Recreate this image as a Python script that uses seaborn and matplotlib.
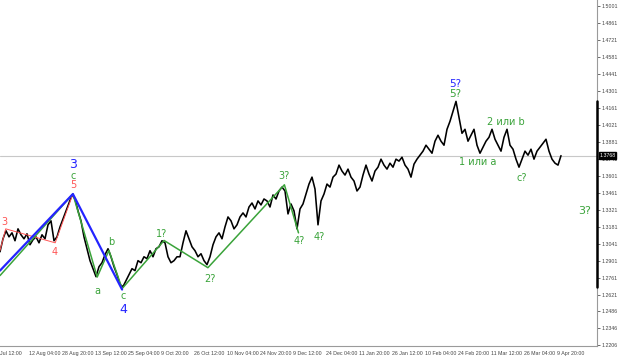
import matplotlib
matplotlib.use("Agg")
import matplotlib.pyplot as plt
import matplotlib.transforms as mtransforms
import numpy as np
import pandas as pd
import seaborn as sns

# close prices, one point every ~3 px of the original chart
close = [1.2976, 1.3083, 1.3149, 1.3099, 1.3132, 1.3067, 1.3165, 1.3116, 1.3083, 1.3124,
         1.3034, 1.3075, 1.3099, 1.3050, 1.3116, 1.3083, 1.3198, 1.3231, 1.3067, 1.3099,
         1.3181, 1.3247, 1.3313, 1.3378, 1.3444, 1.3411, 1.3313, 1.3231, 1.3099, 1.3001,
         1.2903, 1.2837, 1.2771, 1.2853, 1.2886, 1.2952, 1.3001, 1.2935, 1.2853, 1.2788,
         1.2706, 1.2689, 1.2739, 1.2788, 1.2837, 1.2821, 1.2903, 1.2886, 1.2935, 1.2919,
         1.2985, 1.2935, 1.3001, 1.3017, 1.3067, 1.3050, 1.2935, 1.2886, 1.2903, 1.2935,
         1.2935, 1.3050, 1.3149, 1.3083, 1.3017, 1.2985, 1.2935, 1.2960, 1.2903, 1.2870,
         1.2935, 1.3034, 1.3099, 1.3132, 1.3083, 1.3181, 1.3263, 1.3231, 1.3165, 1.3198,
         1.3263, 1.3296, 1.3263, 1.3345, 1.3378, 1.3329, 1.3395, 1.3362, 1.3411, 1.3395,
         1.3345, 1.3444, 1.3411, 1.3477, 1.3509, 1.3477, 1.3288, 1.3370, 1.3313, 1.3165,
         1.3329, 1.3370, 1.3452, 1.3534, 1.3591, 1.3493, 1.3198, 1.3395, 1.3452, 1.3534,
         1.3509, 1.3591, 1.3616, 1.3690, 1.3641, 1.3608, 1.3657, 1.3591, 1.3559, 1.3477,
         1.3509, 1.3608, 1.3690, 1.3616, 1.3559, 1.3641, 1.3673, 1.3739, 1.3690, 1.3657,
         1.3706, 1.3673, 1.3739, 1.3723, 1.3755, 1.3690, 1.3657, 1.3591, 1.3698, 1.3739,
         1.3772, 1.3805, 1.3854, 1.3821, 1.3788, 1.3887, 1.3936, 1.3887, 1.3854, 1.3985,
         1.4051, 1.4133, 1.4215, 1.4083, 1.3952, 1.3985, 1.3887, 1.3936, 1.3985, 1.3854,
         1.3788, 1.3837, 1.3887, 1.3919, 1.3985, 1.3903, 1.3854, 1.3805, 1.3919, 1.3985,
         1.3854, 1.3821, 1.3739, 1.3673, 1.3739, 1.3805, 1.3772, 1.3821, 1.3739, 1.3805,
         1.3837, 1.3870, 1.3903, 1.3805, 1.3739, 1.3706, 1.3690, 1.3768]
last_price = 1.3768

yticks = [1.5001, 1.4861, 1.4721, 1.4581, 1.4441, 1.4301, 1.4161, 1.4021, 1.3881, 1.3741,
          1.3601, 1.3461, 1.3321, 1.3181, 1.3041, 1.2901, 1.2761, 1.2621, 1.2486, 1.2346, 1.2206]
xtick_pos = [0, 9.7, 20.7, 31.7, 42.7, 53.7, 64.7, 75.7, 86.7, 97.7, 108.7, 119.7,
             130.7, 141.7, 152.7, 163.7, 174.7, 185.7]
xtick_labels = ["Jul 12:00", "12 Aug 04:00", "28 Aug 20:00", "13 Sep 12:00", "25 Sep 04:00",
                "9 Oct 20:00", "26 Oct 12:00", "10 Nov 04:00", "24 Nov 20:00", "9 Dec 12:00",
                "24 Dec 04:00", "11 Jan 20:00", "26 Jan 12:00", "10 Feb 04:00", "24 Feb 20:00",
                "11 Mar 12:00", "26 Mar 04:00", "9 Apr 20:00"]

# wave pivots (bar index, price)
blue_x = [0, 24.3, 40.7]
blue_y = [1.2821, 1.3452, 1.2665]
green1_x = [0, 24.3]
green1_y = [1.2780, 1.3452]
green2_x = [24.3, 32.4, 36.3, 40.7, 54.7, 69.3, 94.8, 99.5]
green2_y = [1.3452, 1.2768, 1.2987, 1.2673, 1.3069, 1.2845, 1.3528, 1.3132]
red_x = [0, 1.9, 18.4, 24.3]
red_y = [1.2987, 1.3165, 1.3050, 1.3452]

GREEN = "#3aa33a"
BLUE = "#2424ff"
RED = "#ff5555"

# (text, x, y, colour, size)
labels = [
    ("3", 24.3, 1.3698, BLUE, 9), ("c", 24.3, 1.3600, GREEN, 7), ("5", 24.3, 1.3526, RED, 7),
    ("3", 1.3, 1.3222, RED, 7), ("4", 18.3, 1.2976, RED, 7),
    ("b", 37.0, 1.3058, GREEN, 7), ("a", 32.3, 1.2657, GREEN, 7),
    ("c", 41.0, 1.2608, GREEN, 7), ("4", 41.0, 1.2501, BLUE, 9),
    ("1?", 54.0, 1.3124, GREEN, 7), ("2?", 70.0, 1.2755, GREEN, 7),
    ("3?", 94.7, 1.3600, GREEN, 7), ("4?", 99.7, 1.3067, GREEN, 7), ("4?", 106.3, 1.3099, GREEN, 7),
    ("5?", 151.7, 1.4362, BLUE, 7.5), ("5?", 151.7, 1.4272, GREEN, 7.5),
    ("2 или b", 168.7, 1.4042, GREEN, 7), ("1 или a", 159.3, 1.3714, GREEN, 7),
    ("c?", 174.0, 1.3583, GREEN, 7), ("3?", 195.0, 1.3313, GREEN, 8),
]

sns.set_style("white")
plt.rcParams["font.family"] = ["DejaVu Sans"]

fig = plt.figure(figsize=(6.2, 3.61), dpi=100)
ax = fig.add_axes([0, 15 / 361, 597 / 620, 346 / 361])

df = pd.DataFrame({"bar": np.arange(len(close)), "close": close})

# current price line
ax.axhline(last_price, color="#c8c8c8", lw=0.8, zorder=1)

sns.lineplot(data=df, x="bar", y="close", ax=ax, color="black", lw=1.15, zorder=3)

ax.plot(red_x, red_y, color=RED, lw=0.7, zorder=4)
ax.plot(green1_x, green1_y, color=GREEN, lw=1.1, zorder=4)
ax.plot(green2_x, green2_y, color=GREEN, lw=1.1, zorder=4)
ax.plot(blue_x, blue_y, color=BLUE, lw=1.6, zorder=5)

for txt, x, y, col, fs in labels:
    ax.text(x, y, txt, color=col, fontsize=fs, ha="center", va="center", zorder=6)

ax.set_xlim(0, 199)
ax.set_ylim(1.2200, 1.5050)
ax.set_xlabel("")
ax.set_ylabel("")

for s in ["top", "left"]:
    ax.spines[s].set_visible(False)
ax.spines["right"].set_color("#9a9a9a")
ax.spines["bottom"].set_color("#9a9a9a")
ax.spines["right"].set_linewidth(0.8)
ax.spines["bottom"].set_linewidth(0.8)

tick_font = {"family": "Liberation Sans", "size": 3.8}
ax.yaxis.tick_right()
ax.set_yticks(yticks)
ax.set_yticklabels([f"{v:.4f}" for v in yticks], fontdict=tick_font)
ax.tick_params(axis="y", direction="out", length=2, width=0.6, color="#555555",
               labelcolor="#444444", pad=1)
ax.set_xticks(xtick_pos)
ax.set_xticklabels(xtick_labels, ha="left", fontdict=tick_font)
ax.tick_params(axis="x", direction="out", length=2, width=0.6, color="#555555",
               labelcolor="#444444", pad=1.5)

# visible price range marker on the price scale
trans = mtransforms.blended_transform_factory(ax.transAxes, ax.transData)
ax.plot([1, 1], [min(close), max(close)], transform=trans, color="black", lw=1.8,
        clip_on=False, zorder=7)

# current price box
ax.text(1.004, last_price, f"{last_price:.4f}", transform=trans, color="white",
        fontfamily="Liberation Sans", fontsize=3.8, ha="left", va="center", zorder=8,
        bbox=dict(facecolor="black", edgecolor="black", pad=0.6))

fig.savefig("out.png", dpi=100)
